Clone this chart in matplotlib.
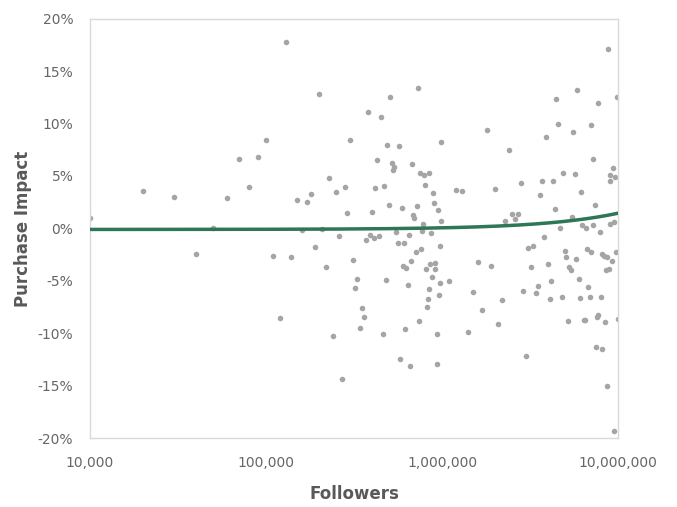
"""Scatter of purchase impact vs. follower count with a linear trendline."""

import matplotlib
matplotlib.use("Agg")
import matplotlib.pyplot as plt
import numpy as np
from matplotlib.ticker import FuncFormatter, FixedLocator

plt.rcParams["font.family"] = ["DejaVu Sans"]

# Followers (log axis) and purchase impact in percent.
followers = [
    10_000, 20_000, 30_000, 60_000, 70_000, 80_000, 90_000, 100_000, 50_000, 40_000,
    110_000, 120_000, 130_000, 200_000, 508_000, 728_000, 380_000, 450_000, 300_000, 489_000,
    567_000, 990_000, 429_000, 518_000, 536_000, 529_000, 678_000, 750_000, 787_000, 840_000,
    229_000, 798_000, 418_000, 470_000, 281_000, 250_000, 180_000, 150_000, 170_000, 889_000,
    1_200_000, 1_300_000, 290_000, 399_000, 498_000, 590_000, 718_000, 897_000, 946_000, 682_000,
    693_000, 780_000, 986_000, 160_000, 209_000, 260_000, 370_000, 390_000, 411_000, 440_000,
    550_000, 650_000, 560_000, 611_000, 769_000, 866_000, 139_000, 190_000, 220_000, 311_000,
    709_000, 760_000, 971_000, 670_000, 603_000, 627_000, 808_000, 858_000, 916_000, 909_000,
    877_000, 329_000, 319_000, 481_000, 638_000, 847_000, 978_000, 1_100_000, 958_000, 829_000,
    818_000, 351_000, 360_000, 341_000, 240_000, 460_000, 618_000, 740_000, 933_000, 1_400_000,
    579_000, 658_000, 937_000, 269_000, 8_770_000, 5_870_000, 4_460_000, 9_840_000, 7_730_000, 1_790_000,
    4_580_000, 7_050_000, 5_570_000, 3_880_000, 2_390_000, 7_240_000, 9_330_000, 9_040_000, 9_660_000, 9_010_000,
    4_890_000, 5_670_000, 2_790_000, 3_690_000, 4_290_000, 6_190_000, 2_000_000, 3_590_000, 7_380_000, 4_390_000,
    2_490_000, 2_690_000, 2_590_000, 2_290_000, 5_480_000, 9_460_000, 8_970_000, 4_680_000, 6_270_000, 6_580_000,
    7_180_000, 7_910_000, 3_770_000, 3_090_000, 3_290_000, 1_600_000, 1_890_000, 3_190_000, 3_990_000, 4_980_000,
    5_070_000, 5_770_000, 6_640_000, 6_970_000, 8_150_000, 8_360_000, 8_660_000, 9_750_000, 9_250_000, 5_270_000,
    5_390_000, 8_510_000, 8_890_000, 5_980_000, 6_760_000, 4_180_000, 3_500_000, 3_400_000, 2_900_000, 1_490_000,
    2_190_000, 4_090_000, 4_790_000, 6_080_000, 6_910_000, 7_970_000, 1_690_000, 2_090_000, 5_180_000, 6_380_000,
    6_520_000, 7_570_000, 7_670_000, 8_400_000, 10_000_000, 2_990_000, 7_470_000, 8_110_000, 8_660_000, 9_530_000,
]

impact_pct = [
    0.98, 3.58, 2.98, 2.91, 6.6, 3.96, 6.8, 8.45, 0.0, -2.43,
    -2.6, -8.5, 17.8, 12.84, 12.58, 13.4, 11.1, 10.67, 8.45, 8.0,
    7.88, 8.26, 6.5, 6.25, 5.87, 5.55, 6.13, 5.33, 5.1, 5.24,
    4.79, 4.15, 3.9, 4.09, 3.93, 3.51, 3.32, 2.72, 2.5, 3.42,
    3.7, 3.55, 1.48, 1.6, 2.21, 1.93, 2.18, 2.47, 1.73, 1.32,
    1.0, 0.46, 0.75, -0.14, -0.08, -0.72, -1.07, -0.65, -0.94, -0.72,
    -0.3, -0.65, -1.38, -1.35, -0.27, -0.46, -2.75, -1.74, -3.68, -3.04,
    -2.21, -1.99, -1.67, -3.13, -3.55, -3.74, -3.9, -3.39, -3.26, -3.84,
    -4.66, -4.82, -5.71, -4.89, -5.37, -5.78, -5.23, -5.01, -6.32, -6.7,
    -7.49, -7.62, -8.48, -9.5, -10.29, -10.1, -9.62, -8.8, -10.1, -9.85,
    -12.46, -13.1, -12.97, -14.4, 17.07, 13.22, 12.33, 12.52, 11.98, 9.43,
    9.98, 9.88, 9.21, 8.73, 7.46, 6.6, 5.74, 5.1, 4.95, 4.5,
    5.27, 5.2, 4.31, 4.5, 4.5, 3.51, 3.77, 3.2, 2.24, 1.89,
    1.36, 1.36, 0.88, 0.69, 1.07, 0.62, 0.4, 0.02, 0.3, 0.05,
    0.33, -0.3, -0.78, -1.86, -1.7, -3.17, -3.58, -3.68, -3.36, -2.12,
    -2.69, -2.88, -1.99, -2.28, -2.47, -2.63, -2.75, -2.21, -3.13, -3.68,
    -3.96, -3.99, -3.84, -4.82, -5.61, -5.04, -5.46, -6.13, -5.94, -6.03,
    -6.83, -6.76, -6.51, -6.63, -6.54, -6.54, -7.81, -9.12, -8.86, -8.73,
    -8.73, -8.42, -8.23, -8.93, -8.67, -12.2, -11.31, -11.47, -15.06, -19.3,
]

# Linear trendline coefficients as shown in the chart (percent, per follower).
trend_intercept = -0.1
trend_slope = 1.55e-7

x_ticks = [10_000, 100_000, 1_000_000, 10_000_000]
y_ticks = [-20, -15, -10, -5, 0, 5, 10, 15, 20]

POINT_COLOR = "#A5A5A5"
TREND_COLOR = "#2D7656"
TICK_COLOR = "#666666"
LABEL_COLOR = "#595959"
FRAME_COLOR = "#D9D9D9"

x = np.array(followers, dtype=float)
y = np.array(impact_pct, dtype=float)

# Linear in follower space, so it bends on the log axis.
trend_x = np.logspace(4, 7, 200)
trend_y = trend_intercept + trend_slope * trend_x

fig = plt.figure(figsize=(6.77, 5.07), dpi=100)
ax = fig.add_axes([0.133, 0.136, 0.780, 0.827])

ax.scatter(x, y, s=16, color=POINT_COLOR, linewidths=0, zorder=2)
ax.plot(trend_x, trend_y, color=TREND_COLOR, linewidth=2.5, zorder=3)

ax.set_xscale("log")
ax.set_xlim(10_000, 10_000_000)
ax.set_ylim(-20, 20)
ax.xaxis.set_major_locator(FixedLocator(x_ticks))
ax.xaxis.set_minor_locator(FixedLocator([]))
ax.xaxis.set_major_formatter(FuncFormatter(lambda v, _: f"{v:,.0f}"))
ax.set_yticks(y_ticks)
ax.yaxis.set_major_formatter(FuncFormatter(lambda v, _: f"{v:.0f}%"))

ax.tick_params(axis="both", length=0, labelsize=10, colors=TICK_COLOR)
ax.tick_params(axis="x", pad=13)
ax.tick_params(axis="y", pad=12)

for spine in ax.spines.values():
    spine.set_color(FRAME_COLOR)
    spine.set_linewidth(1.0)

ax.set_xlabel("Followers", fontsize=12, fontweight="bold", color=LABEL_COLOR, labelpad=11)
ax.set_ylabel("Purchase Impact", fontsize=12, fontweight="bold", color=LABEL_COLOR, labelpad=4)

fig.savefig("out.png", dpi=100, facecolor="white")
